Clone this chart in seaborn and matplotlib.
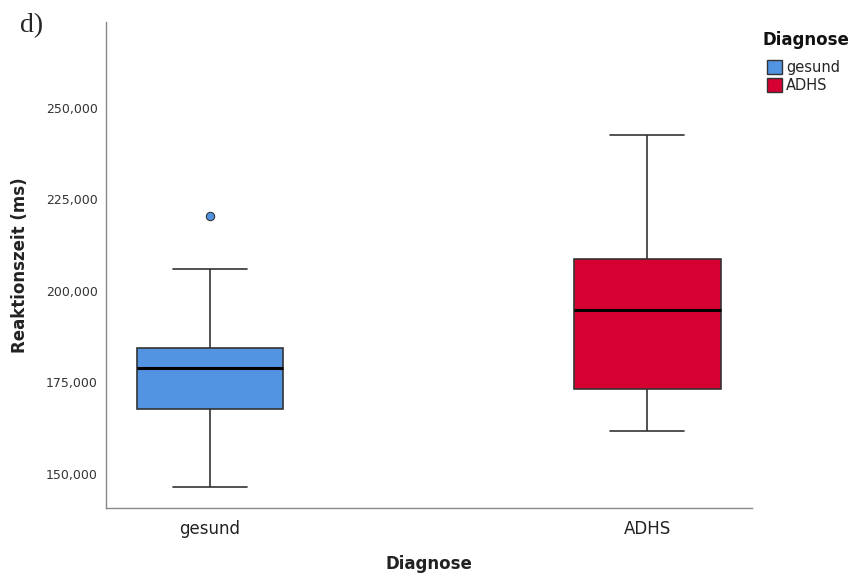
import matplotlib
matplotlib.use("Agg")
import matplotlib.pyplot as plt
import seaborn as sns
import pandas as pd
from matplotlib.patches import Patch
from matplotlib.ticker import FuncFormatter

# Data (ms); quartile values repeated so that the box statistics match the reference
categories = ["gesund", "ADHS"]
gesund_values = [146.4, 167.8, 167.8, 179.0, 179.0, 184.4, 184.4, 206.0, 220.5]
adhs_values = [161.7, 173.2, 194.8, 208.7, 242.6]
colors = {"gesund": "#5294e2", "ADHS": "#d60032"}
y_ticks = [150, 175, 200, 225, 250]

df = pd.DataFrame({
    "Diagnose": ["gesund"] * len(gesund_values) + ["ADHS"] * len(adhs_values),
    "Reaktionszeit": gesund_values + adhs_values,
})

sns.set_style("white")
plt.rcParams["font.family"] = ["DejaVu Sans"]

fig = plt.figure(figsize=(8.51, 5.77), dpi=100)
ax = fig.add_axes([106 / 851, 1 - 508 / 577, 646 / 851, 486 / 577])

sns.boxplot(data=df, x="Diagnose", y="Reaktionszeit", hue="Diagnose",
            order=categories, hue_order=categories, palette=colors,
            width=0.336, whis=1.5, dodge=False, legend=False, saturation=1,
            linewidth=1.2, linecolor="#333333",
            medianprops=dict(color="black", linewidth=2.2),
            whiskerprops=dict(color="#333333", linewidth=1.2),
            capprops=dict(color="#333333", linewidth=1.2),
            boxprops=dict(edgecolor="#333333", linewidth=1.2),
            flierprops=dict(marker="o", markersize=6, markerfacecolor=colors["gesund"],
                            markeredgecolor="#333333", markeredgewidth=0.8),
            ax=ax)

ax.set_xlim(-0.238, 1.24)
ax.set_ylim(140.7, 273.5)
ax.set_yticks(y_ticks)
ax.yaxis.set_major_formatter(FuncFormatter(lambda v, p: f"{v:.3f}".replace(".", ",")))
ax.tick_params(axis="y", labelsize=9, colors="#333333", length=0, pad=6)
ax.tick_params(axis="x", labelsize=12, colors="#222222", length=0, pad=9)

for s in ["top", "right"]:
    ax.spines[s].set_visible(False)
for s in ["left", "bottom"]:
    ax.spines[s].set_color("#888888")
    ax.spines[s].set_linewidth(1.0)

ax.set_xlabel("Diagnose", fontsize=12, fontweight="bold", labelpad=12, color="#222222")
ax.set_ylabel("Reaktionszeit (ms)", fontsize=12, fontweight="bold", labelpad=12, color="#222222")

fig.text(762 / 851, 1 - 40 / 577, "Diagnose", fontsize=12, fontweight="bold",
         va="center", ha="left", color="#111111")
handles = [Patch(facecolor=colors[c], edgecolor="#333333", linewidth=1.0, label=c) for c in categories]
leg = fig.legend(handles=handles, loc="upper left",
                 bbox_to_anchor=(767 / 851, 1 - 60 / 577), frameon=False,
                 fontsize=10.5, handlelength=1.0, handleheight=1.1, handletextpad=0.3,
                 labelspacing=0.2, borderaxespad=0, borderpad=0)

fig.text(20 / 851, 1 - 26 / 577, "d)", fontsize=20, family="Liberation Serif",
         va="center", ha="left")

fig.savefig("out.png", dpi=100)
